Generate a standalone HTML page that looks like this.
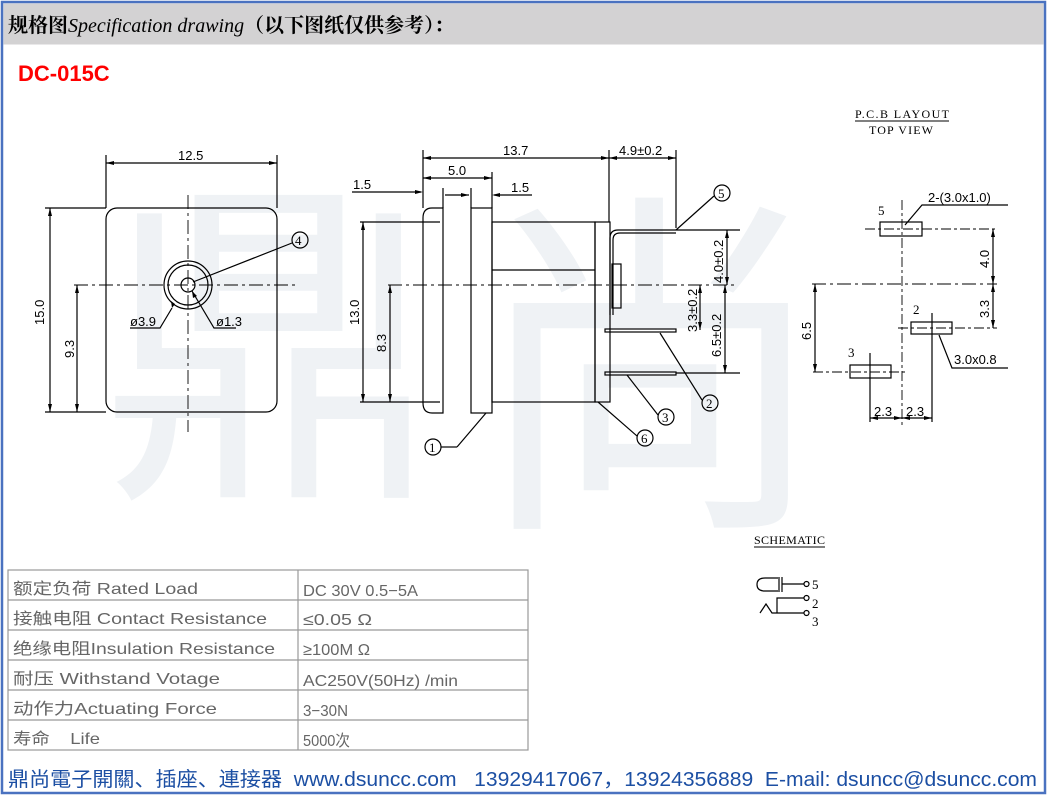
<!DOCTYPE html>
<html><head><meta charset="utf-8"><style>
html,body{margin:0;padding:0;background:#fff}
svg{display:block}
text{font-family:"Liberation Sans","Noto Sans CJK SC",sans-serif}
text.s{font-family:"Liberation Serif","Noto Serif CJK SC",serif}
text.w{font-family:"Noto Sans CJK SC",sans-serif}
</style></head><body>
<svg width="1048" height="796" viewBox="0 0 1048 796" xmlns="http://www.w3.org/2000/svg">
<rect x="0" y="0" width="1048" height="796" fill="#fff"/>
<!-- watermark -->
<text class="w" x="100" y="470" font-size="340" fill="#eff2f5">鼎</text>
<text class="w" x="470" y="500" font-size="360" fill="#eff2f5">尚</text>
<!-- frame -->
<rect x="2" y="2" width="1043" height="791" fill="none" stroke="#4a72c0" stroke-width="2.5"/>
<rect x="3.5" y="3.5" width="1040" height="41" fill="#d3d2d3"/>
<text class="s" x="8" y="32" font-size="20" fill="#000"><tspan font-weight="bold">规格图</tspan><tspan font-style="italic">Specification drawing</tspan><tspan font-weight="bold">（以下图纸仅供参考）：</tspan></text>
<text x="18" y="81" font-size="22" font-weight="bold" fill="#ff0000">DC-015C</text>

<g fill="none" stroke="#000" stroke-width="1.2">
<!-- front view -->
<rect x="106" y="208" width="171" height="204" rx="11"/>
<circle cx="188" cy="285" r="24"/><circle cx="188" cy="285" r="20"/><circle cx="188" cy="285" r="7"/>
<line x1="74" y1="285" x2="298" y2="285" stroke-dasharray="14,4,3,4" stroke-width="0.9"/>
<line x1="188" y1="195" x2="188" y2="432" stroke-dasharray="14,4,3,4" stroke-width="0.9"/>
<line x1="106" y1="155" x2="106" y2="208"/><line x1="277" y1="155" x2="277" y2="208"/>
<line x1="106" y1="163" x2="277" y2="163"/>
<line x1="45" y1="208" x2="106" y2="208"/><line x1="45" y1="412" x2="106" y2="412"/>
<line x1="50" y1="208" x2="50" y2="412"/>
<line x1="77" y1="285" x2="77" y2="412"/>
<circle cx="300" cy="240" r="8"/>
<line x1="292" y1="243" x2="193" y2="282"/>
<polyline points="130,328 160,328 172,308"/>
<polyline points="236,328 214,328 192,291"/>
<!-- side view -->
<path d="M443,208 H432 Q423,208 423,218 V403 Q423,413 432,413 H443 Z"/>
<rect x="471" y="208" width="21" height="205"/>
<rect x="492" y="222" width="103" height="180"/>
<line x1="492" y1="270" x2="595" y2="270"/>
<rect x="595" y="222" width="15" height="180"/>
<path d="M610,315 V238 Q610,230 618,230 H676 M613,315 V240 Q613,233 620,233 H676"/>
<rect x="612" y="264" width="9" height="44"/>
<rect x="605" y="329" width="71" height="3"/>
<rect x="605" y="372" width="71" height="3"/>
<line x1="388" y1="285" x2="735" y2="285" stroke-dasharray="14,4,3,4" stroke-width="0.9"/>
<line x1="423" y1="150" x2="423" y2="208"/><line x1="609" y1="150" x2="609" y2="222"/><line x1="676" y1="150" x2="676" y2="228"/>
<line x1="423" y1="158" x2="676" y2="158"/>
<line x1="492" y1="172" x2="492" y2="208"/><line x1="443" y1="188" x2="443" y2="208"/><line x1="471" y1="188" x2="471" y2="208"/>
<line x1="423" y1="178" x2="492" y2="178"/>
<line x1="352" y1="192" x2="421" y2="192"/>
<line x1="445" y1="195" x2="469" y2="195"/>
<line x1="532" y1="195" x2="494" y2="195"/>
<line x1="360" y1="222" x2="440" y2="222"/><line x1="360" y1="402" x2="440" y2="402"/>
<line x1="363" y1="222" x2="363" y2="402"/>
<line x1="390" y1="285" x2="390" y2="402"/>
<line x1="676" y1="230" x2="740" y2="230"/><line x1="676" y1="373" x2="740" y2="373"/>
<line x1="727" y1="230" x2="727" y2="285"/>
<line x1="700" y1="285" x2="700" y2="330"/>
<line x1="725" y1="285" x2="725" y2="373"/>
<circle cx="722" cy="193" r="8"/><line x1="676" y1="230" x2="714" y2="196"/>
<circle cx="710" cy="403" r="8"/><line x1="660" y1="333" x2="702" y2="400"/>
<circle cx="666" cy="417" r="8"/><line x1="627" y1="375" x2="658" y2="415"/>
<circle cx="645" cy="438" r="8"/><line x1="598" y1="402" x2="637" y2="436"/>
<circle cx="433" cy="447" r="8"/><line x1="486" y1="413" x2="457" y2="447"/><line x1="457" y1="447" x2="441" y2="447"/>
<!-- PCB -->
<line x1="855" y1="121" x2="949" y2="121" stroke-width="1"/>
<line x1="902" y1="200" x2="902" y2="425" stroke-dasharray="10,3,3,3" stroke-width="0.9"/>
<line x1="865" y1="229" x2="997" y2="229" stroke-dasharray="10,3,3,3" stroke-width="0.9"/>
<rect x="880" y="222" width="42" height="14"/>
<polyline points="905,225 922,205 1008,205"/>
<line x1="812" y1="284" x2="997" y2="284" stroke-dasharray="14,4,3,4" stroke-width="0.9"/>
<line x1="993" y1="229" x2="993" y2="328"/>
<rect x="911" y="322" width="41" height="12"/>
<line x1="932" y1="313" x2="932" y2="422"/>
<line x1="898" y1="328" x2="997" y2="328" stroke-dasharray="10,3,3,3" stroke-width="0.9"/>
<polyline points="939,335 952,368 1008,368"/>
<rect x="850" y="365" width="41" height="13"/>
<line x1="870" y1="353" x2="870" y2="422"/>
<line x1="813" y1="372" x2="905" y2="372" stroke-dasharray="10,3,3,3" stroke-width="0.9"/>
<line x1="815" y1="284" x2="815" y2="372"/>
<line x1="870" y1="418" x2="932" y2="418"/>
<!-- schematic -->
<line x1="754" y1="547" x2="825" y2="547" stroke-width="1"/>
<path d="M778,578 H765 Q757,578 757,584.5 Q757,591 765,591 H778"/>
<line x1="779" y1="577" x2="779" y2="592"/><line x1="782" y1="577" x2="782" y2="592"/>
<line x1="782" y1="584" x2="804" y2="584"/>
<circle cx="806.5" cy="584" r="2.5"/>
<polyline points="777,613 777,598 804,598"/><circle cx="806.5" cy="598" r="2.5"/>
<line x1="777" y1="613" x2="804" y2="613"/><circle cx="806.5" cy="613" r="2.5"/>
<polyline points="760,613 766,604 772,613 777,613"/>
<!-- table -->
<rect x="8" y="570" width="520" height="180" stroke="#999"/>
<g stroke="#999"><line x1="8" y1="600" x2="528" y2="600"/><line x1="8" y1="630" x2="528" y2="630"/><line x1="8" y1="660" x2="528" y2="660"/><line x1="8" y1="690" x2="528" y2="690"/><line x1="8" y1="720" x2="528" y2="720"/><line x1="298" y1="570" x2="298" y2="750"/></g>
</g>
<!-- arrowheads -->
<g fill="#000">
<path d="M106,163 l8,-2 v4z M277,163 l-8,-2 v4z"/>
<path d="M50,208 l-2,8 h4z M50,412 l-2,-8 h4z M77,285 l-2,8 h4z M77,412 l-2,-8 h4z"/>
<path d="M423,158 l8,-2 v4z M609,158 l-8,-2 v4z M609,158 l8,-2 v4z M676,158 l-8,-2 v4z"/>
<path d="M423,178 l8,-2 v4z M492,178 l-8,-2 v4z M423,192 l-8,-2 v4z M469,195 l-8,-2 v4z M492,195 l8,-2 v4z"/>
<path d="M363,222 l-2,8 h4z M363,402 l-2,-8 h4z M390,285 l-2,8 h4z M390,402 l-2,-8 h4z"/>
<path d="M727,230 l-2,8 h4z M727,285 l-2,-8 h4z M700,285 l-2,8 h4z M700,330 l-2,-8 h4z M725,285 l-2,8 h4z M725,373 l-2,-8 h4z"/>
<path d="M993,229 l-2,8 h4z M993,284 l-2,-8 h4z M993,284 l-2,8 h4z M993,328 l-2,-8 h4z M815,284 l-2,8 h4z M815,372 l-2,-8 h4z"/>
<path d="M870,418 l8,-2 v4z M902,418 l-8,-2 v4z M902,418 l8,-2 v4z M932,418 l-8,-2 v4z"/>
<path d="M172,308 l-1,-7 4,3z M192,291 l5,5 -4,2z"/>
</g>
<!-- labels -->
<g font-size="13" fill="#000">
<text x="178" y="160">12.5</text>
<text x="44" y="325" transform="rotate(-90 44 325)">15.0</text>
<text x="74" y="358" transform="rotate(-90 74 358)">9.3</text>
<text x="130" y="326">ø3.9</text><text x="216" y="326">ø1.3</text>
<text x="503" y="155">13.7</text><text x="619" y="155">4.9±0.2</text>
<text x="448" y="175">5.0</text>
<text x="353" y="189">1.5</text><text x="511" y="192">1.5</text>
<text x="359" y="325" transform="rotate(-90 359 325)">13.0</text>
<text x="386" y="352" transform="rotate(-90 386 352)">8.3</text>
<text x="723" y="283" transform="rotate(-90 723 283)">4.0±0.2</text>
<text x="697" y="332" transform="rotate(-90 697 332)">3.3±0.2</text>
<text x="721" y="357" transform="rotate(-90 721 357)">6.5±0.2</text>
<text x="989" y="268" transform="rotate(-90 989 268)">4.0</text>
<text x="989" y="318" transform="rotate(-90 989 318)">3.3</text>
<text x="811" y="340" transform="rotate(-90 811 340)">6.5</text>
<text x="928" y="202">2-(3.0x1.0)</text>
<text x="954" y="364">3.0x0.8</text>
<text x="874" y="416">2.3</text><text x="906" y="416">2.3</text>
</g>
<g font-size="13" fill="#000">
<text class="s" x="295" y="245">4</text>
<text class="s" x="718" y="198">5</text>
<text class="s" x="706" y="408">2</text>
<text class="s" x="662" y="422">3</text>
<text class="s" x="641" y="443">6</text>
<text class="s" x="429" y="452">1</text>
<text class="s" x="855" y="118" font-size="12" textLength="94">P.C.B LAYOUT</text>
<text class="s" x="869" y="134" font-size="12" textLength="64">TOP VIEW</text>
<text class="s" x="878" y="215">5</text>
<text class="s" x="913" y="314">2</text>
<text class="s" x="848" y="357">3</text>
<text class="s" x="754" y="544" font-size="12" textLength="71">SCHEMATIC</text>
<text class="s" x="812" y="589">5</text>
<text class="s" x="812" y="608">2</text>
<text class="s" x="812" y="626">3</text>
</g>
<g font-size="16" fill="#666">
<text x="13" y="594" textLength="185" lengthAdjust="spacingAndGlyphs">额定负荷 Rated Load</text>
<text x="13" y="624" textLength="254" lengthAdjust="spacingAndGlyphs">接触电阻 Contact Resistance</text>
<text x="13" y="654" textLength="262" lengthAdjust="spacingAndGlyphs">绝缘电阻Insulation Resistance</text>
<text x="13" y="684" textLength="207" lengthAdjust="spacingAndGlyphs">耐压  Withstand Votage</text>
<text x="13" y="714" textLength="204" lengthAdjust="spacingAndGlyphs">动作力Actuating  Force</text>
<text x="13" y="744" textLength="87" lengthAdjust="spacingAndGlyphs" xml:space="preserve">寿命    Life</text>
<text x="303" y="596" textLength="115" lengthAdjust="spacingAndGlyphs">DC 30V 0.5−5A</text>
<text x="303" y="625" textLength="69" lengthAdjust="spacingAndGlyphs">≤0.05 Ω</text>
<text x="303" y="655" textLength="67" lengthAdjust="spacingAndGlyphs">≥100M Ω</text>
<text x="303" y="686" textLength="155" lengthAdjust="spacingAndGlyphs">AC250V(50Hz) /min</text>
<text x="303" y="716" textLength="45" lengthAdjust="spacingAndGlyphs">3−30N</text>
<text x="303" y="746" textLength="47" lengthAdjust="spacingAndGlyphs">5000次</text>
</g>
<text x="8" y="786" font-size="20" fill="#1c4fa3" xml:space="preserve" textLength="1029" lengthAdjust="spacingAndGlyphs">鼎尚電子開關、插座、連接器  www.dsuncc.com   13929417067，13924356889  E-mail: dsuncc@dsuncc.com</text>
</svg>
</body></html>
